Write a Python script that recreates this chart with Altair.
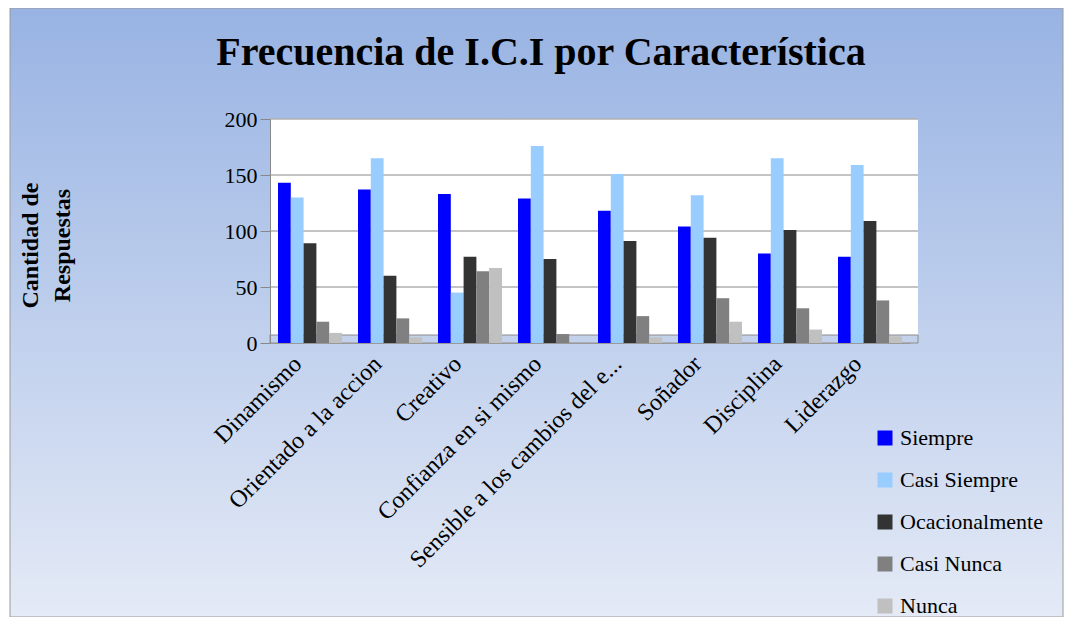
import altair as alt
import pandas as pd

categorias = ["Dinamismo", "Orientado a la accion", "Creativo", "Confianza en si mismo",
              "Sensible a los cambios del e...", "Soñador", "Disciplina", "Liderazgo"]
series = ["Siempre", "Casi Siempre", "Ocacionalmente", "Casi Nunca", "Nunca"]
colores = ["#0000FF", "#99CCFF", "#333333", "#808080", "#C0C0C0"]

siempre = [143, 137, 133, 129, 118, 104, 80, 77]
casi_siempre = [130, 165, 45, 176, 151, 132, 165, 159]
ocacionalmente = [89, 60, 77, 75, 91, 94, 101, 109]
casi_nunca = [19, 22, 64, 8, 24, 40, 31, 38]
nunca = [9, 5, 67, 0, 5, 19, 12, 6]
ticks_y = [50, 100, 150, 200]
titulo = "Frecuencia de I.C.I por Característica"

valores = [siempre, casi_siempre, ocacionalmente, casi_nunca, nunca]
rows = []
for s, vals in zip(series, valores):
    for c, v in zip(categorias, vals):
        rows.append({"Característica": c, "Serie": s, "Cantidad": v})
df = pd.DataFrame(rows)

W, H = 640, 224
PL, PT = 262, 111
TW, TH = 1056, 609
PR, PB = TW - PL - W, TH - PT - H
FONT = "Liberation Serif"

one = pd.DataFrame({"a": [0]})

bg = alt.Chart(one).mark_rect(
    clip=False,
    color=alt.Gradient(gradient="linear", x1=0, x2=0, y1=0, y2=1,
                       stops=[alt.GradientStop(color="#98b3e3", offset=0),
                              alt.GradientStop(color="#e4eaf6", offset=1)]),
    stroke="#9a9a9a", strokeWidth=1,
).encode(x=alt.value(-PL + 2), x2=alt.value(W + PR - 1),
         y=alt.value(-PT), y2=alt.value(H + PB))

title_mark = alt.Chart(pd.DataFrame({"t": [titulo]})).mark_text(
    font=FONT, fontSize=40, fontWeight="bold", color="black",
    align="center", baseline="alphabetic", clip=False,
).encode(text="t:N", x=alt.value(541 - 8 - PL), y=alt.value(65 - 8 - PT))

plotbg = alt.Chart(one).mark_rect(color="white", clip=False).encode(
    x=alt.value(0), x2=alt.value(W + 8), y=alt.value(0), y2=alt.value(H))

floor = alt.Chart(one).mark_rect(color="#c3d1ea", clip=False, stroke="#8c8c8c", strokeWidth=1).encode(
    x=alt.value(0), x2=alt.value(W + 8), y=alt.value(H - 8), y2=alt.value(H))

grid = alt.Chart(pd.DataFrame({"v": ticks_y})).mark_rule(color="#b0b0b0", strokeWidth=1.5).encode(
    y=alt.Y("v:Q", scale=alt.Scale(domain=[0, 200], nice=False)),
    x=alt.value(0), x2=alt.value(W + 8))

bars = alt.Chart(df).mark_bar().encode(
    x=alt.X("Característica:N", sort=categorias,
            scale=alt.Scale(paddingInner=0.2, paddingOuter=0.1),
            axis=alt.Axis(title=None, labelAngle=-45, labelAlign="right", labelBaseline="middle",
                          labelFont=FONT, labelFontSize=24, labelColor="black",
                          ticks=False, domain=True, domainColor="#999999", labelPadding=17,
                          labelOffset=-12, labelLimit=400, zindex=1)),
    xOffset=alt.XOffset("Serie:N", sort=series),
    y=alt.Y("Cantidad:Q", scale=alt.Scale(domain=[0, 200], nice=False),
            axis=alt.Axis(values=[0, 50, 100, 150, 200], grid=False,
                          title=["Cantidad de", "Respuestas"], titleFont=FONT, titleFontSize=24,
                          titleFontWeight="bold", titleColor="black", titleAngle=-90,
                          titleAlign="center", titleBaseline="middle", titleLineHeight=32,
                          titleX=-240, titleY=126,
                          labelFont=FONT, labelFontSize=22, labelColor="black",
                          tickColor="#888888", tickSize=10, labelPadding=3,
                          domainColor="#888888", zindex=1)),
    color=alt.Color("Serie:N", sort=series,
                    scale=alt.Scale(domain=series, range=colores),
                    legend=alt.Legend(title=None, orient="none", legendX=604, legendY=308,
                                      symbolType="square", symbolSize=225, symbolStrokeWidth=0,
                                      labelFont=FONT, labelFontSize=22, labelColor="black",
                                      rowPadding=20, labelOffset=4, padding=0)),
)

chart = alt.layer(bg, title_mark, plotbg, grid, floor, bars).properties(
    width=W, height=H,
    padding={"left": PL, "top": PT, "right": PR, "bottom": PB},
    autosize=alt.AutoSizeParams(type="none"),
).configure_view(stroke=None).configure(background="white")

chart.save("out.html", embed_options={"renderer": "svg", "actions": False})
